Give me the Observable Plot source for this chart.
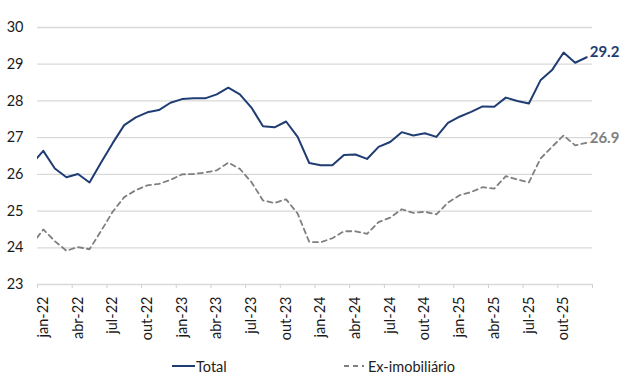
<!DOCTYPE html>
<html><head><meta charset="utf-8">
<script src="https://cdn.jsdelivr.net/npm/d3@7"></script>
<script src="https://cdn.jsdelivr.net/npm/@observablehq/plot@0.6"></script>
<style>
body{margin:0;background:#fff;font-family:Lato,"Open Sans",sans-serif;}
#legend{position:relative;height:42px;font-size:14.5px;color:#222;}
.item{position:absolute;top:0;height:42px;display:flex;align-items:center;}
.item svg{display:block;}
</style></head><body>
<div id="chart"></div>
<div id="legend"></div>
<script>
// months from dez-21 (partly outside the axis) to dez-25
const months = ["dez-21",
 "jan-22","fev-22","mar-22","abr-22","mai-22","jun-22","jul-22","ago-22","set-22","out-22","nov-22","dez-22",
 "jan-23","fev-23","mar-23","abr-23","mai-23","jun-23","jul-23","ago-23","set-23","out-23","nov-23","dez-23",
 "jan-24","fev-24","mar-24","abr-24","mai-24","jun-24","jul-24","ago-24","set-24","out-24","nov-24","dez-24",
 "jan-25","fev-25","mar-25","abr-25","mai-25","jun-25","jul-25","ago-25","set-25","out-25","nov-25","dez-25"];
const total = [26.28,
 26.64,26.16,25.92,26.01,25.78,26.32,26.85,27.34,27.55,27.69,27.75,27.95,
 28.05,28.07,28.07,28.18,28.36,28.18,27.82,27.31,27.28,27.44,27.02,26.31,
 26.25,26.25,26.53,26.54,26.42,26.75,26.88,27.15,27.06,27.12,27.02,27.40,
 27.57,27.70,27.85,27.84,28.09,28.00,27.93,28.56,28.84,29.32,29.04,29.19];
const exImob = [24.08,
 24.50,24.18,23.92,24.02,23.96,24.46,24.98,25.38,25.57,25.70,25.74,25.85,
 26.00,26.01,26.05,26.11,26.32,26.15,25.79,25.29,25.22,25.32,24.93,24.16,
 24.15,24.26,24.45,24.45,24.38,24.70,24.82,25.05,24.95,24.98,24.91,25.23,
 25.43,25.52,25.65,25.61,25.95,25.86,25.78,26.43,26.75,27.06,26.79,26.86];
const tickLabels = ["jan-22","abr-22","jul-22","out-22","jan-23","abr-23","jul-23","out-23",
 "jan-24","abr-24","jul-24","out-24","jan-25","abr-25","jul-25","out-25"];
const yTicks = [23,24,25,26,27,28,29,30];
const seriesNames = ["Total","Ex-imobiliário"];
const seriesColors = ["#1f3d73","#7f7f7f"];
const seriesDash = [null,"5,4"];

const seriesValues = [total, exImob];
// position index: jan-22 centred at 0.5
const rows = seriesValues.map(vals => vals.map((v,k)=>({m: months[k], pos: k - 0.5, v})));
const lastPts = seriesValues.map((vals,s)=>({pos: vals.length - 1.5, v: vals[vals.length-1], s}));
const labelPos = tickLabels.map((_,k)=>k*3 + 0.5);
const tickPos = d3.range(0, tickLabels.length*3 + 1, 3);

const chart = Plot.plot({
  width: 630, height: 345,
  marginLeft: 37, marginRight: 38, marginTop: 27, marginBottom: 61,
  style: {fontFamily: "Lato, 'Open Sans', sans-serif", fontSize: "14.5px", color: "#1a1a1a", background: "#fff"},
  x: {type: "linear", domain: [0, tickLabels.length*3]},
  y: {domain: [23, 30]},
  marks: [
    Plot.ruleY(yTicks, {stroke: "#d9d9d9", strokeWidth: 1.3}),
    Plot.axisY(yTicks, {tickSize: 0, tickPadding: 14, label: null, fontSize: 14.5}),
    Plot.axisX(tickPos, {tickSize: 4, tickFormat: () => "", stroke: "#d0d0d0", label: null}),
    Plot.axisX(labelPos, {tickSize: 0, tickRotate: -90, tickPadding: 12, label: null, fontSize: 14.5,
      tickFormat: d => tickLabels[Math.round((d - 0.5)/3)]}),
    ...rows.map((r,s)=>Plot.lineY(r, {x: "pos", y: "v", stroke: seriesColors[s], strokeWidth: s===0 ? 2 : 1.8,
      strokeDasharray: seriesDash[s], clip: true})),
    Plot.text(lastPts, {x: "pos", y: "v", text: d => d.v.toFixed(1), fill: d => seriesColors[d.s],
      dx: 3, dy: -5, textAnchor: "start", fontWeight: "bold", fontSize: 15})
  ]
});
document.getElementById("chart").append(chart);

const legend = document.getElementById("legend");
const lefts = [172, 344];
seriesNames.forEach((name,s)=>{
  const it = document.createElement("div");
  it.className = "item";
  it.style.left = lefts[s] + "px";
  const w = s===0 ? 23 : 20;
  it.innerHTML = `<svg width="${w}" height="4"><line x1="0" x2="${w}" y1="2" y2="2" stroke="${seriesColors[s]}" stroke-width="2" ${seriesDash[s] ? `stroke-dasharray="${seriesDash[s]}"` : ""}/></svg><span style="margin-left:${s===0?1:4}px">${name}</span>`;
  legend.append(it);
});
</script>
</body></html>
